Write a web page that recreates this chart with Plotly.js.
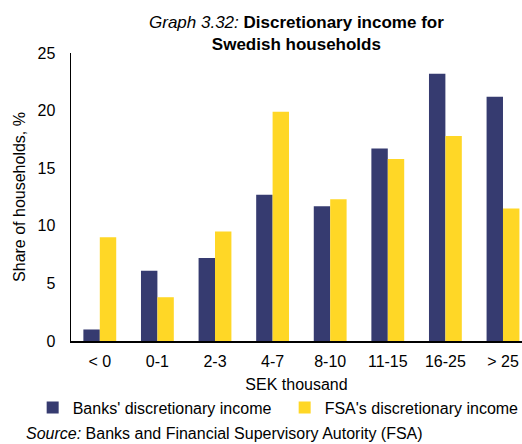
<!DOCTYPE html>
<html>
<head>
<meta charset="utf-8">
<script src="https://cdn.plot.ly/plotly-3.0.1.min.js"></script>
<style>html,body{margin:0;padding:0;background:#fff;}#chart{width:522px;height:444px;}</style>
</head>
<body>
<div id="chart"></div>
<script>
const categories = ["< 0", "0-1", "2-3", "4-7", "8-10", "11-15", "16-25", "> 25"];
const banksValues = [1.0, 6.1, 7.2, 12.7, 11.7, 16.7, 23.2, 21.2];
const fsaValues = [9.0, 3.8, 9.5, 19.9, 12.3, 15.8, 17.8, 11.5];
const yTicks = [0, 5, 10, 15, 20, 25];

const FONT = "Liberation Sans, Arial, sans-serif";

const traces = [
  {type: "bar", name: "Banks' discretionary income", x: categories, y: banksValues,
   marker: {color: "#363B70"}},
  {type: "bar", name: "FSA's discretionary income", x: categories, y: fsaValues,
   marker: {color: "#FFD726"}}
];

const layout = {
  width: 522, height: 444,
  margin: {l: 71, r: 0, t: 53, b: 103, autoexpand: false},
  paper_bgcolor: "#fff", plot_bgcolor: "#fff",
  font: {family: FONT, size: 16, color: "#000"},
  barmode: "group", bargap: 0.43, bargroupgap: 0,
  showlegend: true,
  xaxis: {
    type: "category", range: [-0.5, 7.33], showline: true, linecolor: "#000", linewidth: 1.5,
    ticks: "", showgrid: false, zeroline: false, automargin: false,
    tickfont: {family: FONT, size: 16}, ticklabelstandoff: 5,
    title: {text: "SEK thousand", font: {family: FONT, size: 16}, standoff: 10}
  },
  yaxis: {
    range: [0, 25], tickvals: yTicks, showline: true, linecolor: "#000", linewidth: 1.5,
    ticks: "", showgrid: false, zeroline: false, automargin: false,
    tickfont: {family: FONT, size: 16}, ticklabelstandoff: 11,
    title: {text: "Share of households, %", font: {family: FONT, size: 16}, standoff: 8}
  },
  legend: {
    orientation: "h", x: -0.085, xanchor: "left", y: -0.172, yanchor: "top",
    font: {family: FONT, size: 16}, itemwidth: 30, tracegroupgap: 0,
    entrywidth: 207, entrywidthmode: "pixels"
  },
  annotations: [
    {
      text: "<i>Graph 3.32:</i> <b>Discretionary income for</b><br><b>Swedish households</b>",
      xref: "paper", yref: "paper", x: 0.501, xanchor: "center",
      y: 1.145, yanchor: "top", showarrow: false,
      font: {family: FONT, size: 17, color: "#000"}
    },
    {
      text: "<i>Source:</i> Banks and Financial Supervisory Autority (FSA)",
      xref: "paper", yref: "paper", x: -0.105, xanchor: "left",
      y: -0.285, yanchor: "top", showarrow: false,
      font: {family: FONT, size: 16, color: "#000"}
    }
  ]
};

Plotly.newPlot("chart", traces, layout, {displayModeBar: false, staticPlot: true});
</script>
</body>
</html>
